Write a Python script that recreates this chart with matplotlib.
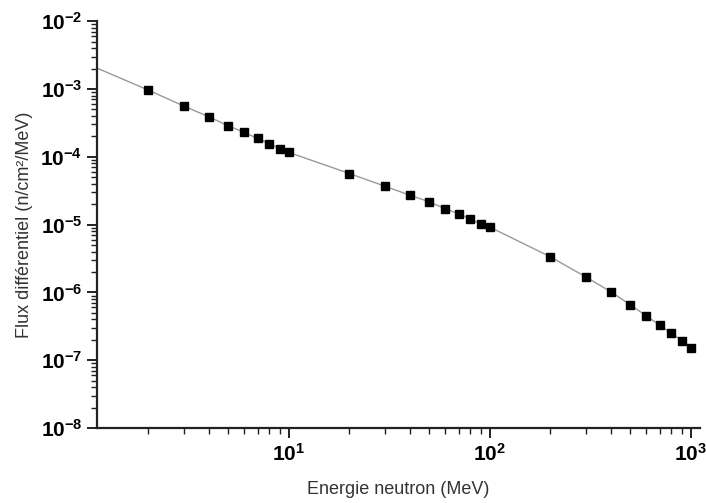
import matplotlib
matplotlib.use("Agg")
import matplotlib.pyplot as plt
from matplotlib.ticker import LogLocator, NullFormatter, FixedLocator

plt.rcParams['font.family'] = ['Liberation Sans', 'DejaVu Sans']

energy = [2, 3, 4, 5, 6, 7, 8, 9, 10,
          20, 30, 40, 50, 60, 70, 80, 90, 100,
          200, 300, 400, 500, 600, 700, 800, 900, 1000]
flux = [9.6e-4, 5.6e-4, 3.88e-4, 2.86e-4, 2.28e-4, 1.86e-4, 1.56e-4, 1.32e-4, 1.16e-4,
        5.66e-5, 3.68e-5, 2.71e-5, 2.16e-5, 1.71e-5, 1.44e-5, 1.21e-5, 1.02e-5, 9.16e-6,
        3.34e-6, 1.69e-6, 1.02e-6, 6.54e-7, 4.5e-7, 3.28e-7, 2.5e-7, 1.95e-7, 1.54e-7]
line_start_x = 1.11
line_start_y = 2.03e-3
x_major_ticks = [10, 100, 1000]
y_major_ticks = [1e-8, 1e-7, 1e-6, 1e-5, 1e-4, 1e-3, 1e-2]

fig = plt.figure(figsize=(7.06, 5.03), dpi=100)
ax = fig.add_axes([0.1374, 0.149, 0.854, 0.809])

ax.plot([line_start_x] + energy, [line_start_y] + flux, color='#999999', lw=1.0, zorder=2)
ax.plot(energy, flux, linestyle='none', marker='s', markersize=5.3, color='black', zorder=3)

ax.set_xscale('log')
ax.set_yscale('log')
ax.set_xlim(1.11, 1108)
ax.set_ylim(1e-8, 1e-2)

ax.spines['top'].set_visible(False)
ax.spines['right'].set_visible(False)
for s in ['left', 'bottom']:
    ax.spines[s].set_linewidth(1.6)
    ax.spines[s].set_color('#222222')

ax.xaxis.set_major_locator(FixedLocator(x_major_ticks))
ax.xaxis.set_minor_locator(LogLocator(base=10, subs=range(2, 10), numticks=10))
ax.yaxis.set_major_locator(FixedLocator(y_major_ticks))
ax.yaxis.set_minor_locator(LogLocator(base=10, subs=range(2, 10), numticks=10))
ax.xaxis.set_minor_formatter(NullFormatter())
ax.yaxis.set_minor_formatter(NullFormatter())

ax.tick_params(which='major', direction='out', length=7, width=1.4, color='#222222',
               labelsize=15)
ax.tick_params(which='minor', direction='out', length=4, width=1.0, color='#222222')
for lab in ax.get_xticklabels() + ax.get_yticklabels():
    lab.set_fontweight('bold')

ax.set_xlabel('Energie neutron (MeV)', fontsize=13, color='#333333', labelpad=12)
ax.set_ylabel('Flux différentiel (n/cm²/MeV)', fontsize=13, color='#333333', labelpad=5)

fig.savefig('out.png', dpi=100)
